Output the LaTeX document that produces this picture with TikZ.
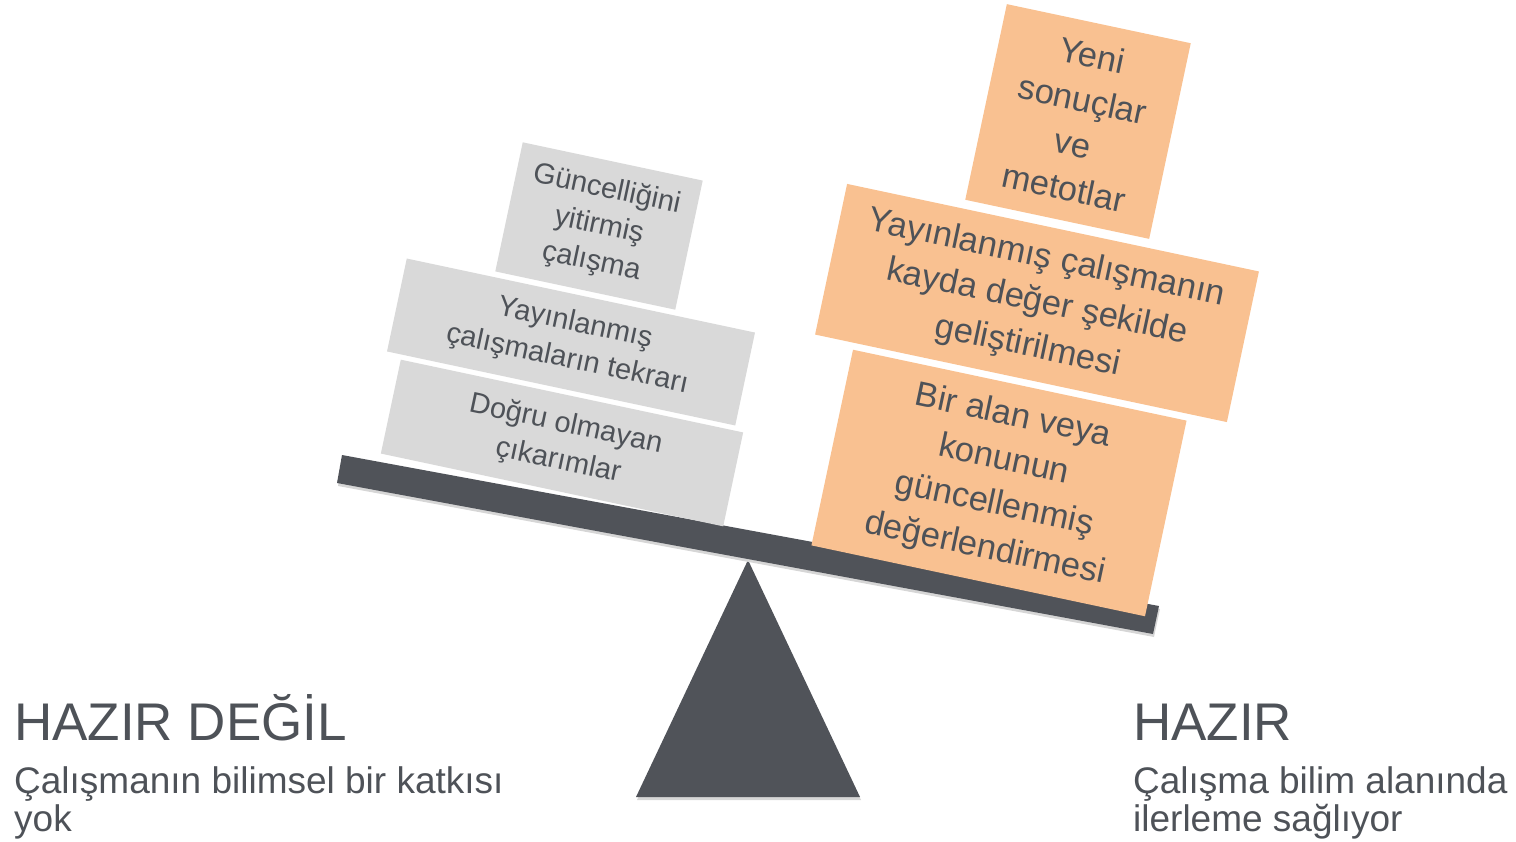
\documentclass[tikz,border=0pt]{standalone}
\usepackage{fontspec}
\setmainfont{Liberation Sans}
\definecolor{textgray}{HTML}{4E5258}
\definecolor{beamgray}{HTML}{505359}
\definecolor{boxgray}{HTML}{D9D9D9}
\definecolor{boxorange}{HTML}{F9C191}
\begin{document}
\begin{tikzpicture}[x=1pt,y=-1pt,
  txt/.style={text=textgray, align=center, inner sep=0pt},
  graybox/.style={txt, fill=boxgray, rotate=-12, font=\fontsize{29}{37}\selectfont},
  orangebox/.style={txt, fill=boxorange, rotate=-12, font=\fontsize{34.5}{45}\selectfont},
  biglabel/.style={text=textgray, inner sep=0pt, anchor=base west, font=\fontsize{53}{60}\selectfont},
  sublabel/.style={text=textgray, inner sep=0pt, anchor=base west, font=\fontsize{37}{40}\selectfont},
  darkpart/.style={fill=beamgray},
  castshadow/.style={fill=black!16}]
\useasboundingbox (0,0) rectangle (1516,842);

% fulcrum
\coordinate (t1) at (748,560);
\coordinate (t2) at (860,797);
\coordinate (t3) at (636,797);
\fill[castshadow] ([shift={(1,3)}]t1) -- ([shift={(1,3)}]t2) -- ([shift={(1,3)}]t3) -- cycle;
\fill[darkpart] (t1) -- (t2) -- (t3) -- cycle;

% beam
\coordinate (b1) at (342,455);
\coordinate (b2) at (1159,606);
\coordinate (b3) at (1153,634);
\coordinate (b4) at (337,483);
\fill[castshadow] ([shift={(1,3)}]b1) -- ([shift={(1,3)}]b2) -- ([shift={(1,3)}]b3) -- ([shift={(1,3)}]b4) -- cycle;
\fill[darkpart] (b1) -- (b2) -- (b3) -- (b4) -- cycle;

% grey stack (left)
\node[graybox, minimum width=184pt, minimum height=132pt] (g1) at (599,226) {Güncelliğini\\yitirmiş\\çalışma};
\node[graybox, minimum width=356pt, minimum height=95pt] (g2) at (571,342) {Yayınlanmış\\çalışmaların tekrarı};
\node[graybox, minimum width=350pt, minimum height=96pt] (g3) at (562,443) {Doğru olmayan\\çıkarımlar};

% orange stack (right)
\node[orangebox, minimum width=188pt, minimum height=200pt] (o1) at (1078,121.5) {Yeni\\sonuçlar\\ve\\metotlar};
\node[orangebox, minimum width=421pt, minimum height=154pt] (o2) at (1037,303) {Yayınlanmış çalışmanın\\kayda değer şekilde\\geliştirilmesi};
\node[orangebox, minimum width=341pt, minimum height=200pt] (o3) at (999,483) {Bir alan veya\\konunun\\güncellenmiş\\değerlendirmesi};

% labels
\node[biglabel] (l1) at (14,740) {HAZIR DEĞİL};
\node[sublabel] (l2) at (14,793) {Çalışmanın bilimsel bir katkısı};
\node[sublabel] (l3) at (14,831) {yok};
\node[biglabel] (r1) at (1133,740) {HAZIR};
\node[sublabel] (r2) at (1133,793) {Çalışma bilim alanında};
\node[sublabel] (r3) at (1133,831) {ilerleme sağlıyor};
\end{tikzpicture}
\end{document}
